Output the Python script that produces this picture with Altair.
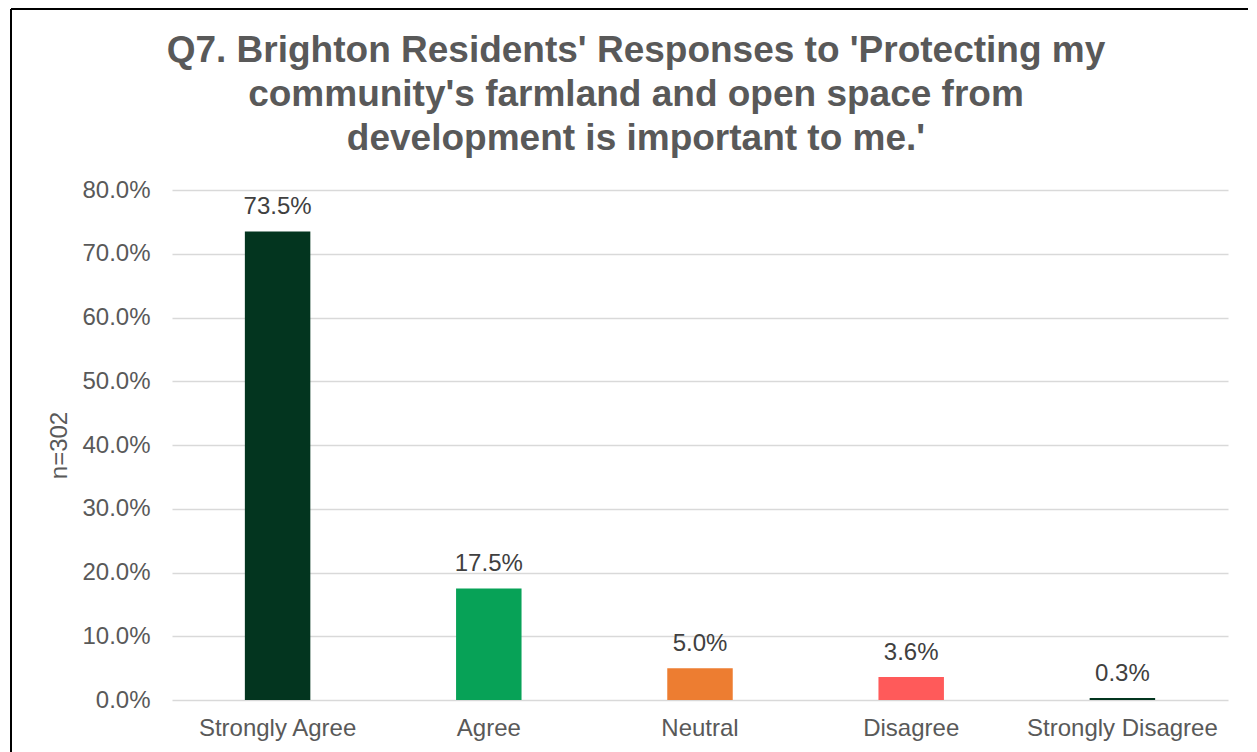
import altair as alt
import pandas as pd

categories = ["Strongly Agree", "Agree", "Neutral", "Disagree", "Strongly Disagree"]
values = [0.735, 0.175, 0.050, 0.036, 0.003]
colors = ["#03351F", "#07A257", "#ED7D31", "#FF5A5A", "#03351F"]
y_ticks = [0.0, 0.1, 0.2, 0.3, 0.4, 0.5, 0.6, 0.7, 0.8]

df = pd.DataFrame({"cat": categories, "val": values, "color": colors})

W, H = 1056, 510

x_enc = alt.X("cat:N", sort=categories, title=None,
              scale=alt.Scale(paddingInner=0.69, paddingOuter=0.345),
              axis=alt.Axis(labelAngle=0, labelFontSize=24, labelColor="#595959",
                            labelFont="Liberation Sans", ticks=False, domain=False,
                            labelPadding=16, grid=False, labelLimit=400))
y_enc = alt.Y("val:Q", title="n=302",
              scale=alt.Scale(domain=[0, 0.8], nice=False),
              axis=alt.Axis(values=y_ticks, format=".1%", labelFontSize=24,
                            labelColor="#595959", labelFont="Liberation Sans",
                            ticks=False, domain=False, labelPadding=22,
                            gridColor="#D9D9D9", gridWidth=1.5,
                            titleFontSize=24, titleFontWeight="normal",
                            titleColor="#595959", titleFont="Liberation Sans",
                            titlePadding=10))

bars = alt.Chart(df).mark_bar().encode(
    x=x_enc, y=y_enc,
    color=alt.Color("color:N", scale=None),
)

labels = alt.Chart(df).mark_text(
    baseline="bottom", dy=-12, fontSize=24, color="#404040", font="Liberation Sans"
).encode(
    x=alt.X("cat:N", sort=categories),
    y=alt.Y("val:Q"),
    text=alt.Text("val:Q", format=".1%"),
)

frame_v = alt.Chart(df).mark_rule(color="black", strokeWidth=2).encode(
    x=alt.value(-161), y=alt.value(-181), y2=alt.value(H + 200)
)
frame_h = alt.Chart(df).mark_rule(color="black", strokeWidth=2).encode(
    x=alt.value(-161), x2=alt.value(W + 200), y=alt.value(-181)
)

chart = alt.layer(bars, labels, frame_v, frame_h).properties(
    width=W, height=H,
    autosize=alt.AutoSizeParams(type="none"),
    padding={"left": 164, "top": 182, "right": 20, "bottom": 60},
    title=alt.TitleParams(
        text=["Q7. Brighton Residents' Responses to 'Protecting my",
              "community's farmland and open space from",
              "development is important to me.'"],
        fontSize=37, font="Liberation Sans", fontWeight="bold", color="#595959",
        anchor="middle", dx=-64, lineHeight=44, offset=0, dy=150,
    ),
).configure_view(stroke=None)

chart.save("out.html", embed_options={"renderer": "svg", "actions": False})
